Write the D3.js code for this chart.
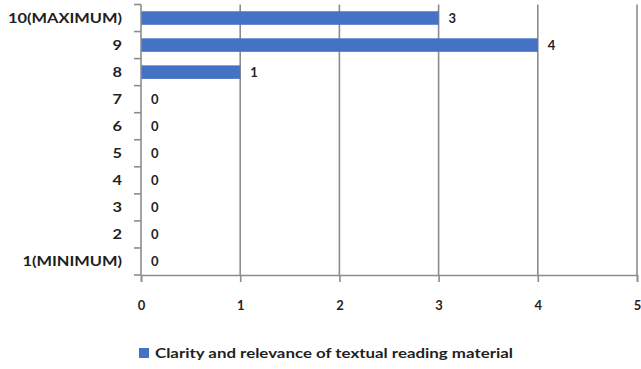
<!DOCTYPE html>
<html><head><meta charset="utf-8">
<script src="https://cdn.jsdelivr.net/npm/d3@7"></script>
<style>body{margin:0;background:#fff}svg{display:block}text{font-family:Lato,"Open Sans",sans-serif;fill:#1f1f1f;font-weight:700}</style>
</head><body>
<svg id="c" width="641" height="369"></svg>
<script>
const categories = ["10(MAXIMUM)","9","8","7","6","5","4","3","2","1(MINIMUM)"];
const values = [3,4,1,0,0,0,0,0,0,0];
const xTicks = [0,1,2,3,4,5];
const seriesName = "Clarity and  relevance of textual reading material";

(function(){
const svg = d3.select("#c");
const pL = 141, pR = 637, pT = 4.5, pB = 275;
const x = d3.scaleLinear().domain([0,5]).range([pL,pR]);
const y = d3.scaleBand().domain(categories).range([pT,pB]).paddingInner(0.5).paddingOuter(0.25);
const grey = "#8c8c8c";
function widen(sel, k){
  sel.each(function(){
    const w = this.getComputedTextLength();
    d3.select(this).attr("textLength", w*k).attr("lengthAdjust","spacingAndGlyphs");
  });
}

// gridlines
svg.append("g").selectAll("line").data(xTicks.filter(d=>d>0)).join("line")
  .attr("x1",d=>x(d)).attr("x2",d=>x(d)).attr("y1",pT).attr("y2",pB)
  .attr("stroke",grey).attr("stroke-width",1.6);

// bars
svg.append("g").selectAll("rect").data(values).join("rect")
  .attr("x",x(0)).attr("y",(d,i)=>y(categories[i]))
  .attr("width",d=>x(d)-x(0)).attr("height",y.bandwidth())
  .attr("fill","#4472C4");

// x axis
const xa = svg.append("g").attr("transform",`translate(0,${pB})`)
  .call(d3.axisBottom(x).tickValues(xTicks).tickSize(7).tickFormat(d3.format("d")));
xa.select(".domain").attr("stroke",grey).attr("stroke-width",1.6);
xa.selectAll(".tick line").attr("stroke",grey).attr("stroke-width",1.6);
xa.selectAll("text").attr("font-size",13).attr("font-family","Lato").attr("font-weight",700)
  .attr("fill","#1f1f1f").attr("dy","0.35em").attr("y",30);

// y axis with ticks at band boundaries
const yb = d3.scaleLinear().domain([0,categories.length]).range([pT,pB]);
svg.append("line").attr("x1",pL).attr("x2",pL).attr("y1",pT).attr("y2",pB).attr("stroke",grey).attr("stroke-width",1.6);
svg.append("g").selectAll("line").data(d3.range(categories.length+1)).join("line")
  .attr("x1",pL-7).attr("x2",pL).attr("y1",d=>yb(d)).attr("y2",d=>yb(d))
  .attr("stroke",grey).attr("stroke-width",1.6);
const cl = svg.append("g").selectAll("text").data(categories).join("text")
  .attr("x",122).attr("y",d=>y(d)+y.bandwidth()/2).attr("dy","0.35em")
  .attr("text-anchor","end").attr("font-size",14).text(d=>d);
const k = 114 / cl.node().getComputedTextLength();
widen(cl, k);

// value labels
svg.append("g").selectAll("text").data(values).join("text")
  .attr("x",d=>x(d)+10).attr("y",(d,i)=>y(categories[i])+y.bandwidth()/2).attr("dy","0.35em")
  .attr("font-size",13).text(d=>d);

// legend
svg.append("rect").attr("x",139).attr("y",348).attr("width",10).attr("height",10).attr("fill","#4472C4");
const lt = svg.append("text").attr("x",155).attr("y",353).attr("dy","0.35em").attr("font-size",13).text(seriesName);
lt.attr("textLength",358).attr("lengthAdjust","spacingAndGlyphs");
})();
</script>
</body></html>
